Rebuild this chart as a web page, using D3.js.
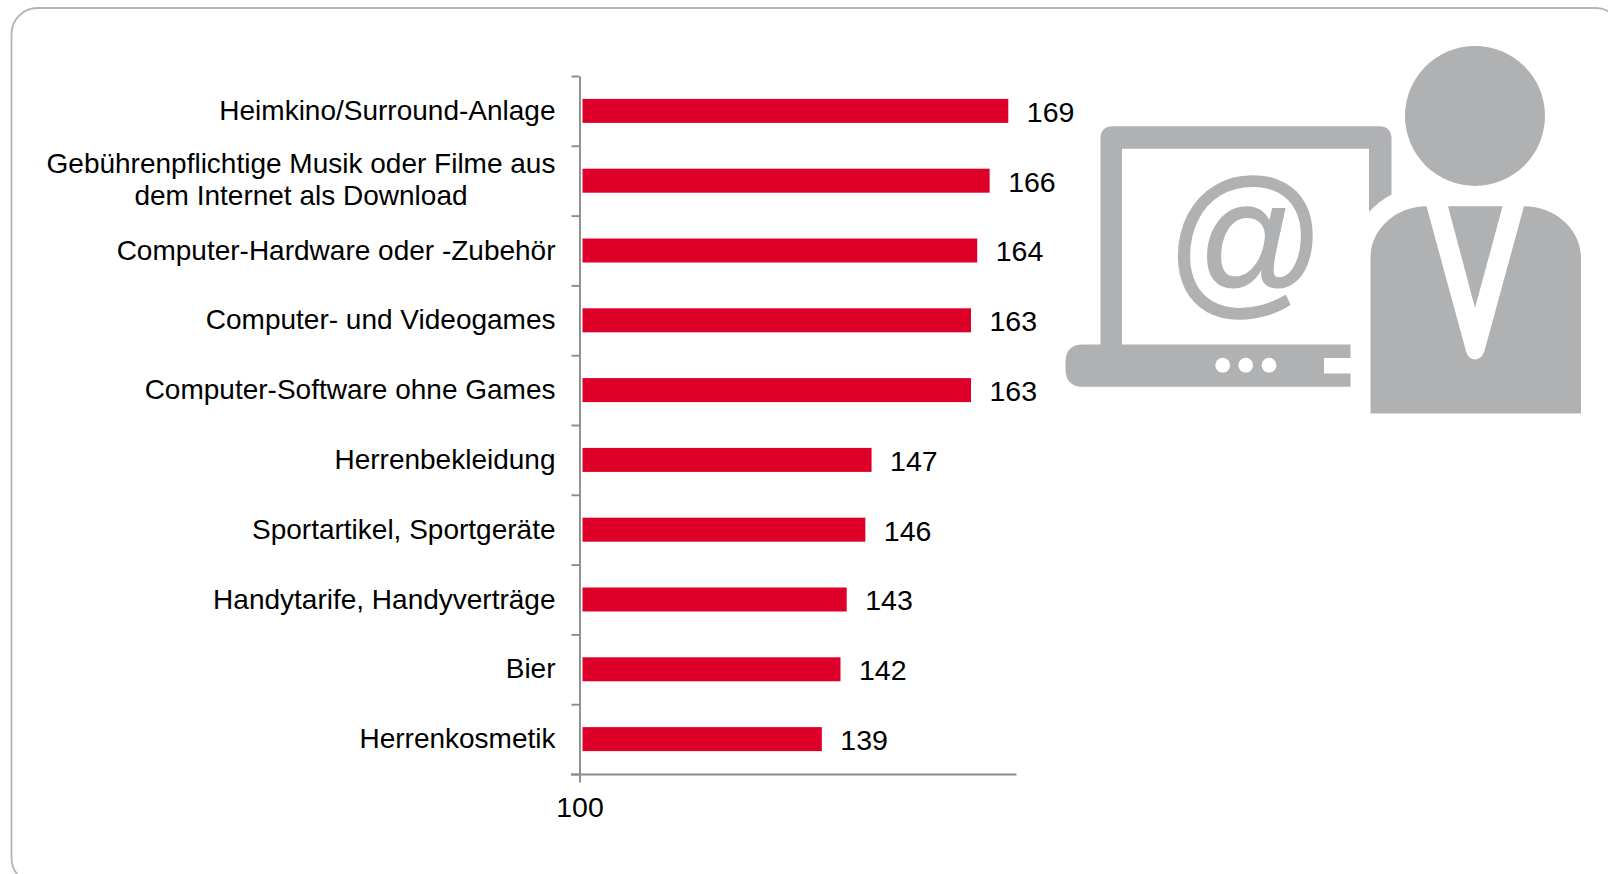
<!DOCTYPE html>
<html><head><meta charset="utf-8">
<script src="https://cdn.jsdelivr.net/npm/d3@7"></script>
<style>html,body{margin:0;background:#fff}svg{display:block}text{font-family:"Liberation Sans",Arial,sans-serif;fill:#000}</style>
</head><body><svg id="c" width="1608" height="874"></svg>
<script>
const categories = [["Heimkino/Surround-Anlage"],["Gebührenpflichtige Musik oder Filme aus","dem Internet als Download"],["Computer-Hardware oder -Zubehör"],["Computer- und Videogames"],["Computer-Software ohne Games"],["Herrenbekleidung"],["Sportartikel, Sportgeräte"],["Handytarife, Handyverträge"],["Bier"],["Herrenkosmetik"]];
const values = [169,166,164,163,163,147,146,143,142,139];
const xTicks = [100];
const RED="#df0029", GREY="#b0b1b3", AX="#8c8c8c", FS=28, VFS=28.5;
const svg=d3.select("#c");
svg.append("rect").attr("x",11.5).attr("y",8).attr("width",1610).attr("height",876).attr("rx",26).attr("fill","none").attr("stroke","#b4b4b4").attr("stroke-width",1.8);
const x=d3.scaleLinear().domain([100,170]).range([579.5,1014.5]);
const y=d3.scaleBand().domain(d3.range(values.length)).range([76,774]);
const edges=d3.scaleLinear().domain([0,values.length]).range([76,774]);
const gy=svg.append("g").attr("transform","translate(579.5,0)").call(d3.axisLeft(edges).tickValues(d3.range(values.length+1)).tickSize(8).tickSizeOuter(0).tickFormat(""));
const gx=svg.append("g").attr("transform","translate(0,774.5)").call(d3.axisBottom(x).tickValues(xTicks).tickSize(8).tickSizeOuter(0).tickFormat(d3.format("d")));
gx.select(".domain").attr("d","M571,0H1016.5");
[gx,gy].forEach(g=>{g.selectAll("path,line").attr("stroke",AX).attr("stroke-width",1.9);});
gx.selectAll("text").attr("font-size",VFS).attr("dy",0).attr("y",42.5).attr("fill","#000");
const barH=24;
svg.selectAll(".bar").data(values).join("rect").attr("class","bar").attr("x",x(100)+3).attr("width",d=>x(d)-x(100)-3).attr("y",(d,i)=>y(i)+y.bandwidth()/2-barH/2).attr("height",barH).attr("fill",RED);
svg.selectAll(".val").data(values).join("text").attr("class","val").attr("x",d=>x(d)+18.5).attr("y",(d,i)=>y(i)+y.bandwidth()/2+10.8).attr("font-size",VFS).text(d=>d);
categories.forEach((lines,i)=>{
  const cy=y(i)+y.bandwidth()/2;
  const t=svg.append("text").attr("font-size",FS).attr("y",cy+9);
  if(lines.length===1){t.attr("x",555.5).attr("text-anchor","end").text(lines[0]);}
  else{ t.attr("text-anchor","middle");
    t.append("tspan").attr("x",301).attr("y",cy-7.5).text(lines[0]);
    t.append("tspan").attr("x",301).attr("y",cy+24.5).text(lines[1]);}
});
// icon
const ic=svg.append("g").attr("fill",GREY);
ic.append("circle").attr("cx",1475).attr("cy",115.9).attr("r",70);
ic.append("path").attr("d","M1113,126.2H1379Q1391.5,126.2 1391.5,138.7V194.5Q1379,201 1369,212V148.7H1122V346H1100.5V138.7Q1100.5,126.2 1113,126.2Z");
ic.append("path").attr("d","M1083,344.6H1350.5V358H1324V373.4H1350.5V386.7H1083Q1065.5,386.7 1065.5,369.2V362.1Q1065.5,344.6 1083,344.6Z");
[1222.7,1245.7,1269].forEach(c=>svg.append("circle").attr("cx",c).attr("cy",365.2).attr("r",7.4).attr("fill","#fff"));
ic.append("path").attr("d","M1370.5,413.4V258C1370.5,229 1396,206.2 1426.5,206.2L1465.4,349C1468,363 1482,363 1485,349L1524,206.2C1555,206.2 1581,229 1581,258V413.4Z");
ic.append("path").attr("d","M1448,206.2H1502.6L1475,308Z");
svg.append("text").attr("transform","translate(1246,295.6) scale(1,1.053)").attr("text-anchor","middle").attr("font-size",157).style("fill",GREY).style("stroke",GREY).style("stroke-width",1.4).text("@");
</script></body></html>
